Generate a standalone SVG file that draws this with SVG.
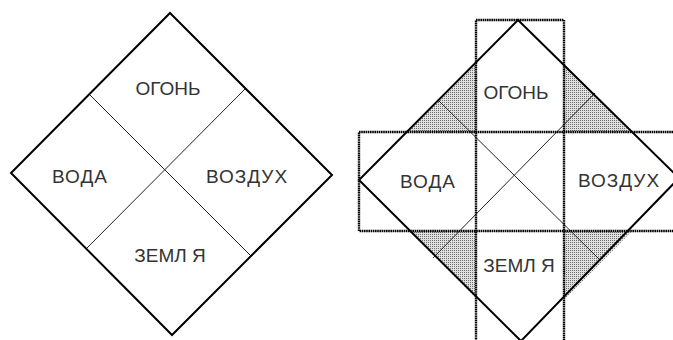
<svg xmlns="http://www.w3.org/2000/svg" width="673" height="340" viewBox="0 0 673 340">
<defs>
<pattern id="dots" width="2" height="2" patternUnits="userSpaceOnUse">
<rect width="2" height="2" fill="#e0e0e0"/>
<rect width="1" height="1" fill="#6e6e6e"/>
</pattern>
<style>
.edge{fill:none;stroke:#000;stroke-width:2;stroke-linejoin:miter}
.thin{fill:none;stroke:#222;stroke-width:1}
.frame{fill:none;stroke:#000;stroke-width:2.4;stroke-dasharray:1.6 0.6}
.shade{fill:url(#dots);stroke:none}
.lbl{font-family:"Liberation Sans",Arial,sans-serif;font-size:19px;fill:#333;text-anchor:middle}
</style>
</defs>
<rect width="673" height="340" fill="#fff"/>

<g id="left-diagram">
<g id="left-connectors">
<line class="thin" x1="89" y1="94" x2="251" y2="256"/>
<line class="thin" x1="246" y1="88" x2="86" y2="249"/>
</g>
<polygon id="left-diamond" class="edge" points="170,13 332,175 172,335 11,173"/>
<g id="left-fire"><text class="lbl" x="168" y="95">ОГОНЬ</text></g>
<g id="left-water"><text class="lbl" x="80" y="183" letter-spacing="1">ВОДА</text></g>
<g id="left-air"><text class="lbl" x="247" y="183" letter-spacing="1">ВОЗДУХ</text></g>
<g id="left-earth"><text class="lbl" x="170" y="262">ЗЕМЛ Я</text></g>
</g>

<g id="right-diagram">
<g id="right-shading">
<polygon class="shade" points="476,62 476,132 407,132"/>
<polygon class="shade" points="564,64 564,132 630,132"/>
<polygon class="shade" points="409,231 476,231 476,298"/>
<polygon class="shade" points="564,231 632,231 564,300"/>
</g>
<g id="right-connectors">
<line class="thin" x1="438" y1="100" x2="600" y2="260"/>
<line class="thin" x1="595" y1="93" x2="433" y2="258"/>
</g>
<g id="right-frames">
<rect class="frame" x="476" y="20" width="88" height="330"/>
<rect class="frame" x="359" y="132" width="330" height="99"/>
</g>
<polygon id="right-diamond" class="edge" points="518,20 679,178 521,341 359,180"/>
<g id="right-fire"><text class="lbl" x="516" y="99">ОГОНЬ</text></g>
<g id="right-water"><text class="lbl" x="428" y="188" letter-spacing="1">ВОДА</text></g>
<g id="right-air"><text class="lbl" x="619" y="187" letter-spacing="1">ВОЗДУХ</text></g>
<g id="right-earth"><text class="lbl" x="519" y="272">ЗЕМЛ Я</text></g>
</g>
</svg>
